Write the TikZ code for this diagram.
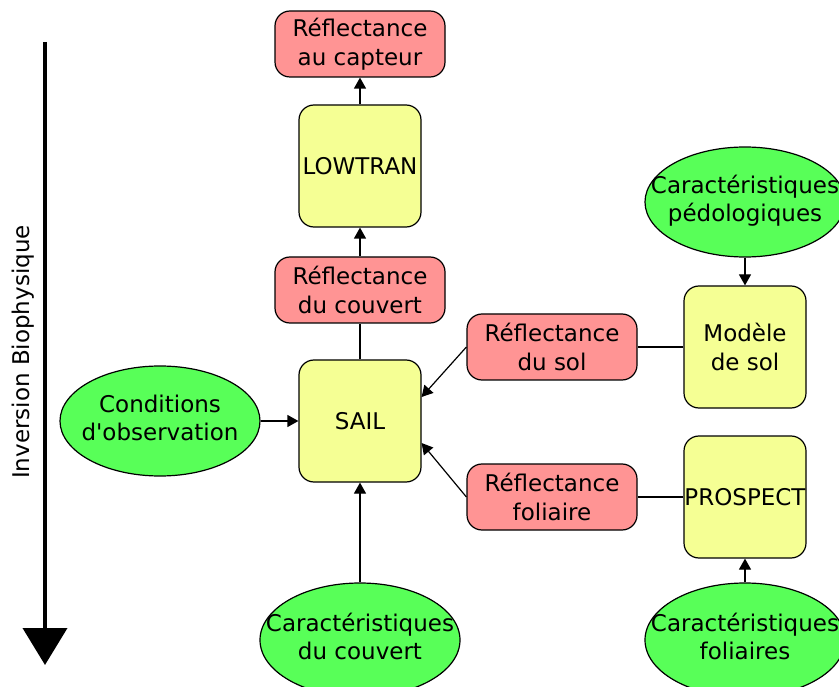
\documentclass[tikz,border=0pt]{standalone}
\usepackage{fontspec}
\setmainfont{DejaVu Sans}
\usetikzlibrary{shapes.geometric,arrows.meta}
\definecolor{rose}{RGB}{255,148,148}
\definecolor{jaune}{RGB}{245,255,148}
\definecolor{vert}{RGB}{88,255,88}
% texte centre sans elargir l'ellipse
\newcommand{\txt}[1]{\makebox[0pt]{\raisebox{-3pt}{\begin{tabular}{@{}c@{}}#1\end{tabular}}}}

\begin{document}
\begin{tikzpicture}[x=1pt,y=-1pt,>={Triangle[length=11pt,width=12pt]},line join=round,
	font=\fontsize{23}{28.5}\selectfont,
	modele/.style={draw,line width=1.2pt,fill=jaune,rounded corners=15pt,minimum width=122pt,minimum height=122pt,inner sep=0pt},
	reflect/.style={draw,line width=1.2pt,fill=rose,rounded corners=15pt,minimum width=170pt,minimum height=66pt,inner sep=0pt,align=center},
	param/.style={draw,line width=1.2pt,fill=vert,ellipse,minimum width=200pt,minimum height=110pt,inner sep=0pt}]
		\useasboundingbox (0,0) rectangle (839,687);
		\clip (0,0) rectangle (839,687);
		% fleche de l'inversion
		\draw[line width=4pt,-{Triangle[length=37pt,width=44pt]}] (45,42) -- (45,665);
		\node[rotate=90] (inv) at (23,352) {Inversion Biophysique};
		% modeles
		\node[modele] (lowtran) at (360,166) {LOWTRAN};
		\node[modele] (sail) at (360,421) {SAIL};
		\node[modele,align=center] (msol) at (745,347) {Modèle\\de sol};
		\node[modele] (prospect) at (745,497) {PROSPECT};
		% reflectances
		\node[reflect] (capteur) at (360,44) {Réflectance\\au capteur};
		\node[reflect] (couvert) at (360,290) {Réflectance\\du couvert};
		\node[reflect] (sol) at (552,347) {Réflectance\\du sol};
		\node[reflect] (foliaire) at (552,497) {Réflectance\\foliaire};
		% parametres
		\node[param] (obs) at (160,421) {\txt{Conditions\\d\textquotesingle observation}};
		\node[param,minimum height=114pt] (ccouvert) at (360,640) {\txt{Caractéristiques\\du couvert}};
		\node[param] (pedo) at (745,202) {\txt{Caractéristiques\\pédologiques}};
		\node[param,minimum height=114pt] (cfol) at (745,640) {\txt{Caractéristiques\\foliaires}};
		% liens
		\draw[line width=1.2pt,->] (lowtran) -- (capteur);
		\draw[line width=1.2pt,->] (couvert) -- (lowtran);
		\draw[line width=1.2pt] (sail) -- (couvert);
		\draw[line width=1.2pt,->] (obs) -- (sail);
		\draw[line width=1.2pt,->] (ccouvert) -- (sail);
		\draw[line width=1.2pt,->] (sol.west) -- ([yshift=24pt]sail.east);
		\draw[line width=1.2pt,->] (foliaire.west) -- ([yshift=-22pt]sail.east);
		\draw[line width=1.2pt] (msol) -- (sol);
		\draw[line width=1.2pt] (prospect) -- (foliaire);
		\draw[line width=1.2pt,->] (pedo) -- (msol);
		\draw[line width=1.2pt,->] (cfol) -- (prospect);
\end{tikzpicture}
\end{document}
